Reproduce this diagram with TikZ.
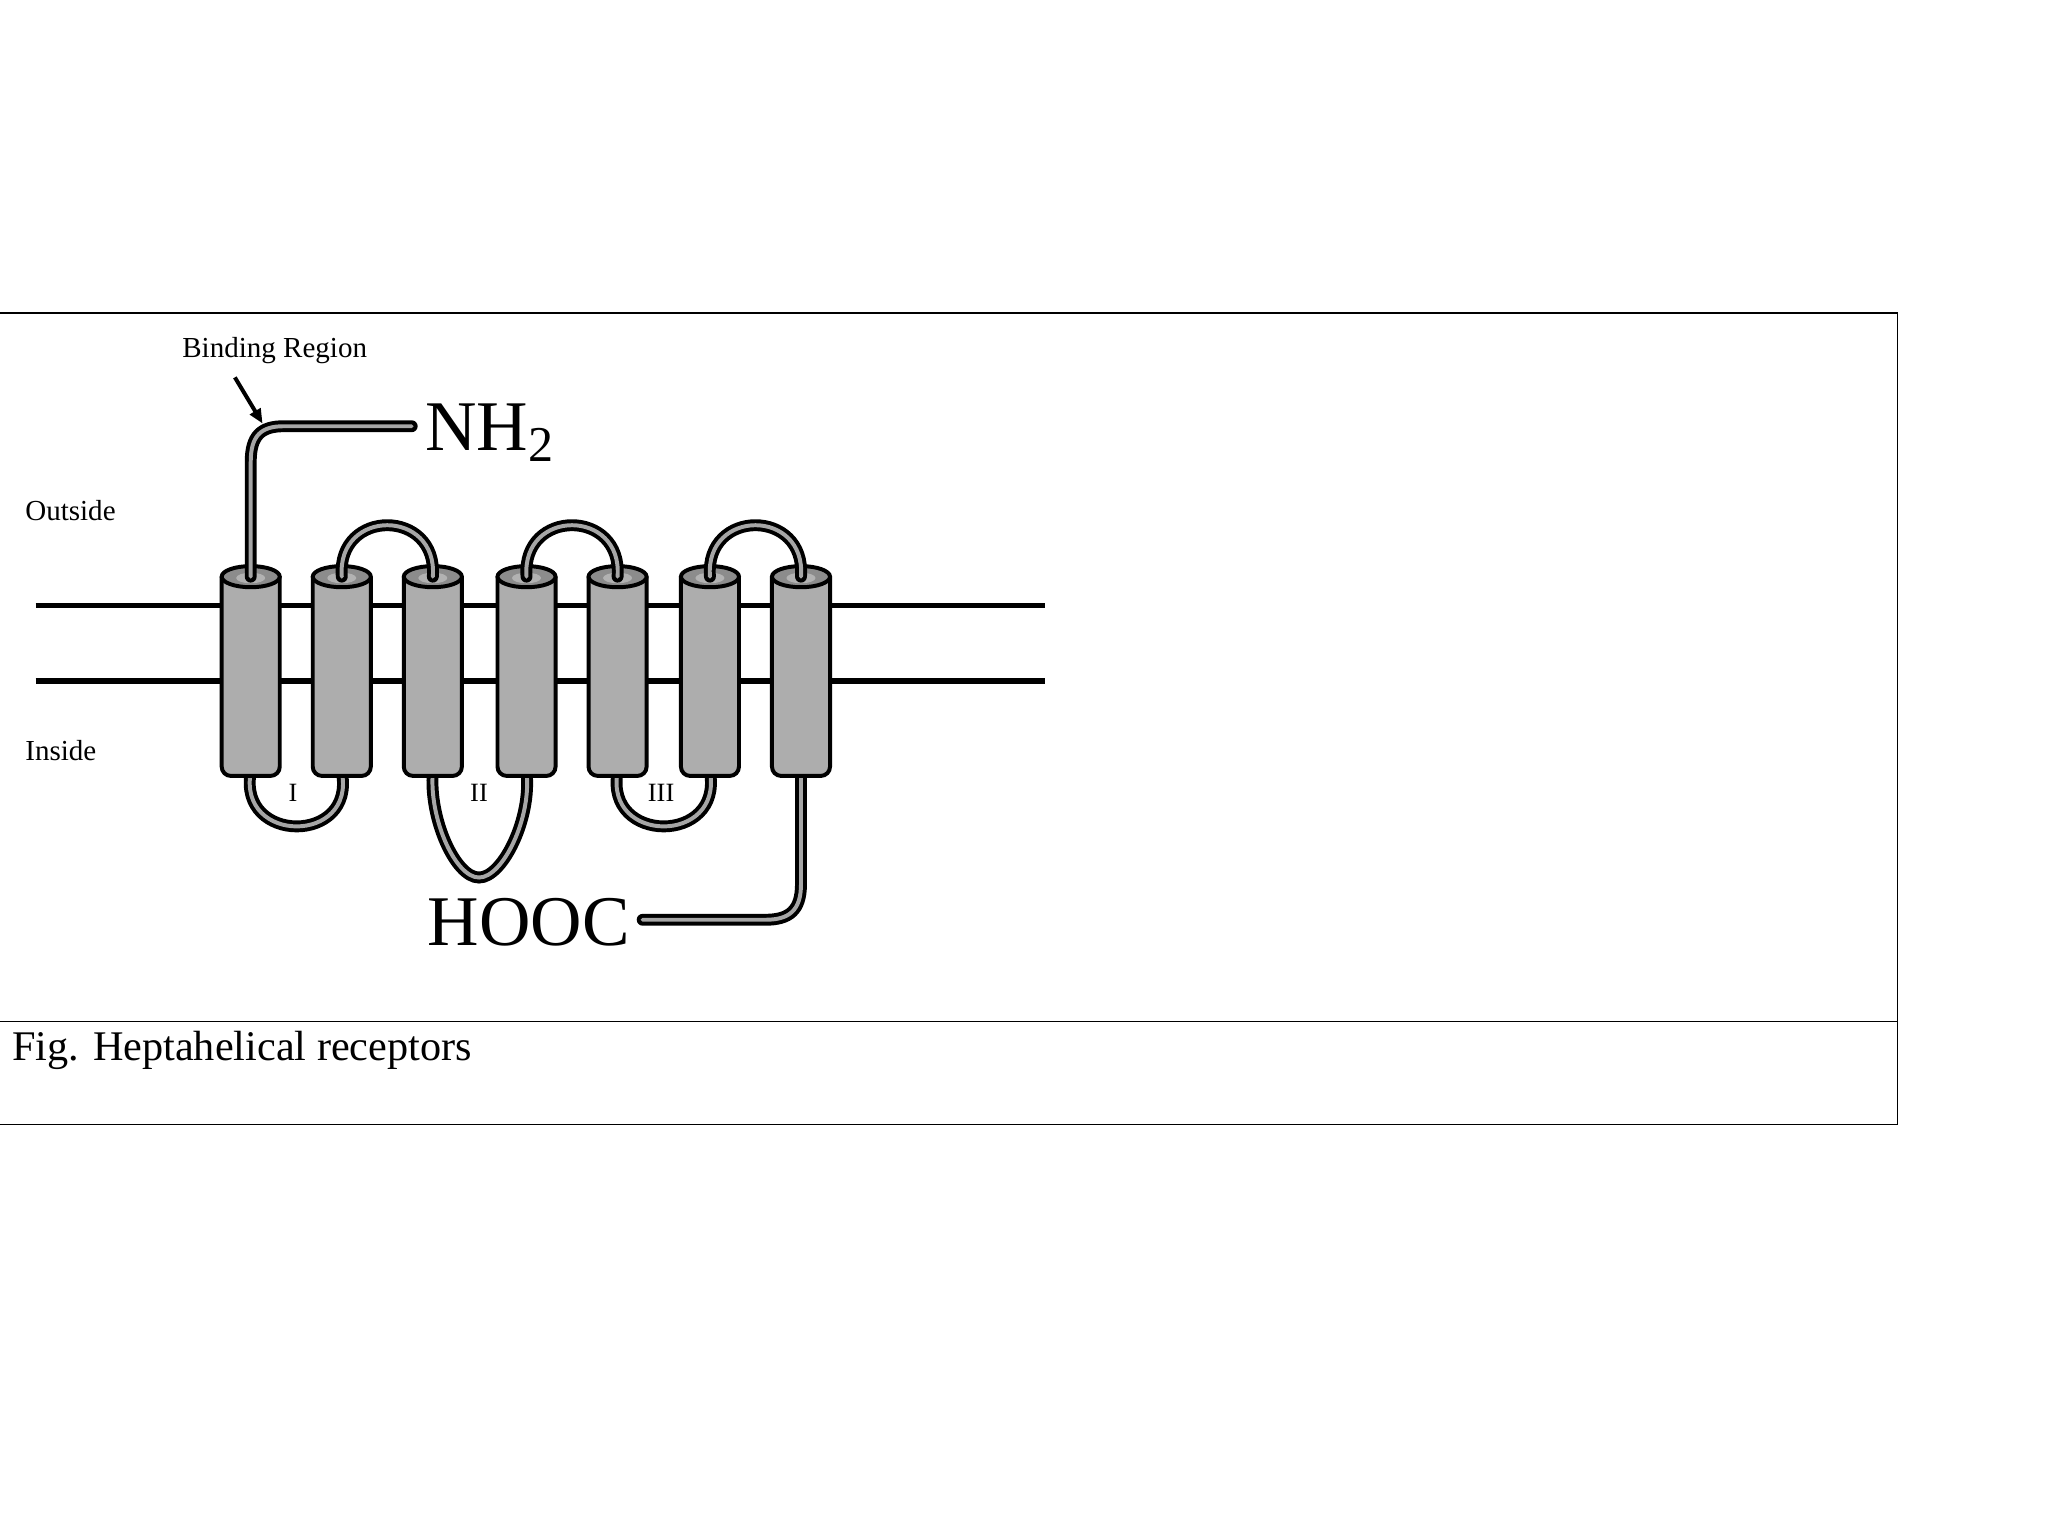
\documentclass[tikz,border=0pt]{standalone}
\usepackage{fontspec}
\setmainfont{Liberation Serif}
\usetikzlibrary{arrows.meta}
\begin{document}
\begin{tikzpicture}[x=1pt,y=-1pt,
  tube/.style={line width=3pt,double=black!35,double distance=3pt,line cap=round},
  helix/.style={fill=black!32,draw=black,line width=3pt},
  lbl/.style={inner sep=0pt,font=\fontsize{22}{24}\selectfont}]
\useasboundingbox (0,0) rectangle (1552,1164);
\draw[line width=1.2pt] (-5,237) rectangle (1438,852);
\draw[line width=1.2pt] (-5,774) -- (1438,774);
\node[anchor=west,inner sep=0pt,font=\fontsize{32}{34}\selectfont] (cap) at (9,796) {Fig. Heptahelical receptors};
% membrane
\draw[line width=4pt] (27,459) -- (792,459);
\draw[line width=4pt] (27,516) -- (792,516);
\node[lbl,anchor=west] (out) at (19,387) {Outside};
\node[lbl,anchor=west] (in) at (19,569) {Inside};
% helix coordinates
\foreach \i/\x in {1/190,2/259,3/328,4/399,5/468,6/538,7/607}{
  \coordinate (t\i) at (\x,437);
  \coordinate (b\i) at (\x,585);
}
% intracellular loops (under helices)
\draw[tube] (b1) .. controls (180,640) and (270,640) .. (b2);
\draw[tube] (b3) .. controls (325,620) and (345,665) .. (363,665) .. controls (381,665) and (403,620) .. (b4);
\draw[tube] (b5) .. controls (458,640) and (548,640) .. (b6);
\coordinate (cend) at (487,697);
\draw[tube] (b7) -- (607,670) .. controls (607,690) and (598,697) .. (580,697) -- (cend);
% helices
\foreach \x in {190,259,328,399,468,538,607}{
  \draw[helix,rounded corners=7pt] (\x-22,437) -- (\x-22,588) -- (\x+22,588) -- (\x+22,437);
  \draw[helix,fill=black!45] (\x,437) ellipse (22 and 8);
  \fill[black!30] (\x,438) ellipse (11 and 4);
}
% extracellular loops
\draw[tube] (t2) .. controls (255,385) and (332,385) .. (t3);
\draw[tube] (t4) .. controls (395,385) and (472,385) .. (t5);
\draw[tube] (t6) .. controls (534,385) and (611,385) .. (t7);
% N-terminus
\coordinate (nend) at (312,323);
\draw[tube] (t1) -- (190,350) .. controls (190,330) and (198,323) .. (215,323) -- (nend);
\node[anchor=west,inner sep=0pt,font=\fontsize{54}{56}\selectfont] (nh) at (322,328) {NH\raisebox{-0.35ex}{\fontsize{38}{40}\selectfont 2}};
\node[anchor=west,inner sep=0pt,font=\fontsize{54}{56}\selectfont] (hooc) at (324,699) {HOOC};
% binding region
\node[lbl,anchor=west] (bind) at (138,266) {Binding Region};
\coordinate (arrS) at (178,286);
\coordinate (arrE) at (199,321);
\draw[line width=3pt,-{Triangle[length=11pt,width=9pt]}] (arrS) -- (arrE);
% loop labels
\node[lbl,font=\fontsize{20}{22}\selectfont] (l1) at (222,601) {I};
\node[lbl,font=\fontsize{20}{22}\selectfont] (l2) at (363,601) {II};
\node[lbl,font=\fontsize{20}{22}\selectfont] (l3) at (501,601) {III};
\end{tikzpicture}
\end{document}
